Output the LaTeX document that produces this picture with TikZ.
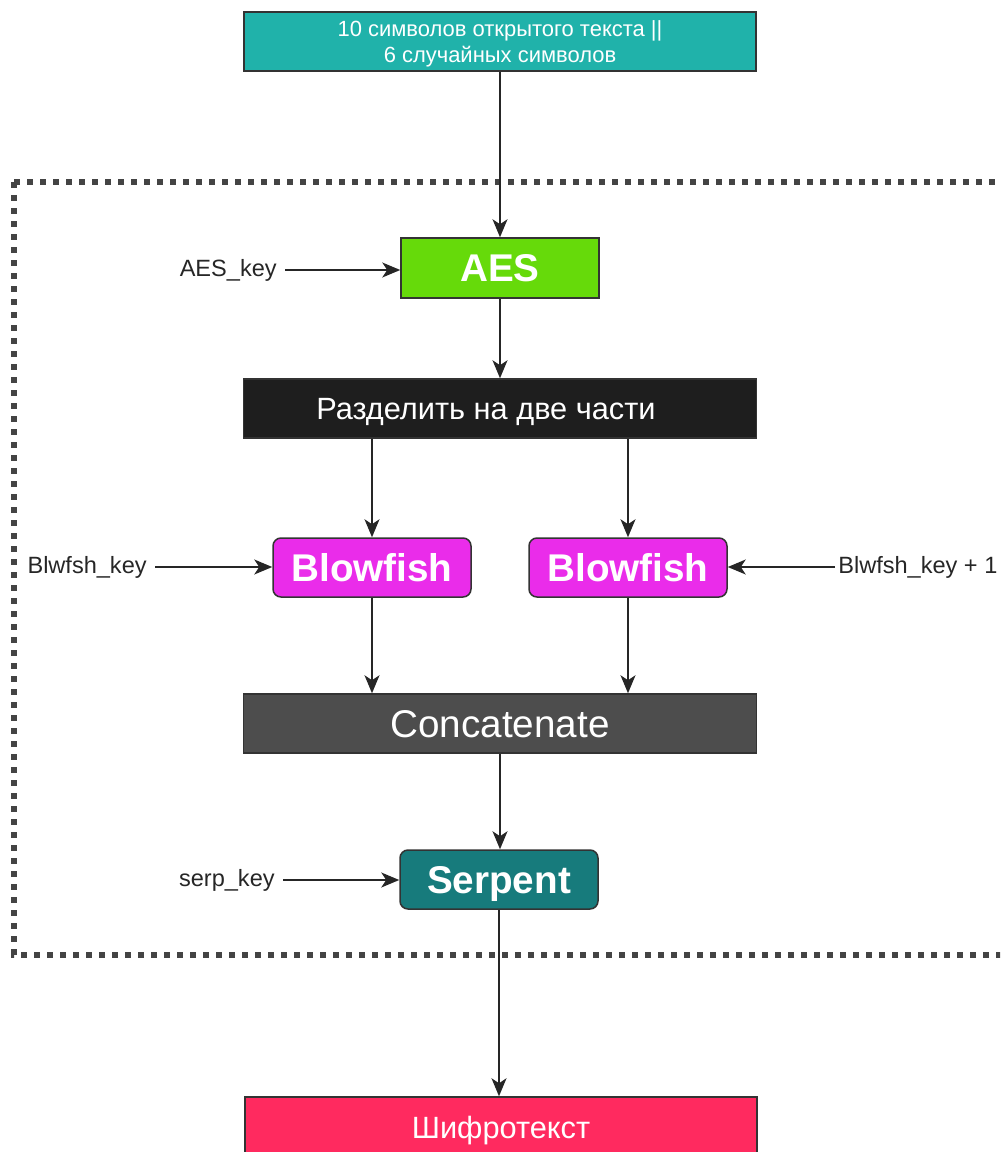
\documentclass[tikz,border=0pt]{standalone}
\usepackage{fontspec}
\setmainfont{Liberation Sans}
\usetikzlibrary{arrows.meta}

\definecolor{boxline}{HTML}{333333}
\definecolor{dotgray}{HTML}{444444}
\definecolor{plainteal}{HTML}{20B2AA}
\definecolor{aesgreen}{HTML}{66DA0A}
\definecolor{splitblack}{HTML}{1E1E1E}
\definecolor{bfmagenta}{HTML}{EA2CEA}
\definecolor{catgray}{HTML}{4D4D4D}
\definecolor{serpteal}{HTML}{177B7C}
\definecolor{cipherred}{HTML}{FF2A5F}

\begin{document}
\begin{tikzpicture}[x=0.2mm,y=-0.2mm,
  blk/.style={draw=boxline,line width=0.3mm,text=white,inner sep=0pt,align=center,text depth=0pt},
  wide/.style={blk,minimum width=102.6mm,minimum height=11.8mm},
  cipherbox/.style={blk,minimum width=39.6mm,minimum height=11.8mm,
    font=\fontsize{22}{26}\selectfont\bfseries},
  arr/.style={-{Stealth[length=3.6mm,width=3mm,inset=1mm]},line width=0.3mm,draw=black!85},
  keylbl/.style={font=\fontsize{13.4}{16}\selectfont,inner xsep=1.6mm,inner ysep=0pt,text=black!85}]
\useasboundingbox (0,0) rectangle (1000,1152);
\clip (0,0) rectangle (1000,1152);

\draw[line width=1.2mm,dash pattern=on 1.2mm off 1.4mm,draw=dotgray] (14,182) rectangle (1012,955);

\node[wide,fill=plainteal,minimum width=102.4mm,font=\fontsize{12.5}{14.8}\selectfont] (plain) at (500,41.5)
  {\rule{0pt}{2.5mm}10 символов открытого текста ||\\6 случайных символов};
\node[cipherbox,fill=aesgreen,minimum height=12mm] (aes) at (500,268) {AES};
\node[wide,fill=splitblack,font=\fontsize{17.5}{20}\selectfont] (split) at (500,408.5) {Разделить на две части\hspace*{5.6mm}};
\node[cipherbox,fill=bfmagenta,rounded corners=1.6mm] (bfl) at (372,567.5) {Blowfish};
\node[cipherbox,fill=bfmagenta,rounded corners=1.6mm] (bfr) at (628,567.5) {Blowfish};
\node[wide,fill=catgray,font=\fontsize{22}{26}\selectfont] (concat) at (500,723.5) {Concatenate};
\node[cipherbox,fill=serpteal,rounded corners=1.6mm] (serp) at (499,879.5) {Serpent};
\node[wide,fill=cipherred,minimum width=102.4mm,minimum height=12mm,font=\fontsize{17.5}{21}\selectfont] (cipher) at (501,1127) {Шифротекст};

\node[keylbl,anchor=east] (aeskey) at (285,270) {AES\_key};
\node[keylbl,anchor=east] (bfkey) at (155,567) {Blwfsh\_key};
\node[keylbl,anchor=west,inner xsep=0.6mm] (bfkeyone) at (835,567) {Blwfsh\_key + 1};
\node[keylbl,anchor=east] (serpkey) at (283,880) {serp\_key};

\draw[arr] (plain.south -| aes.north) -- (aes.north);
\draw[arr] (aeskey.east) -- (aeskey.east -| aes.west);
\draw[arr] (aes.south) -- (split.north);
\draw[arr] (split.south -| bfl.north) -- (bfl.north);
\draw[arr] (split.south -| bfr.north) -- (bfr.north);
\draw[arr] (bfkey.east) -- (bfkey.east -| bfl.west);
\draw[arr] (bfkeyone.west) -- (bfkeyone.west -| bfr.east);
\draw[arr] (bfl.south) -- (bfl.south |- concat.north);
\draw[arr] (bfr.south) -- (bfr.south |- concat.north);
\draw[arr] (concat.south) -- (concat.south |- serp.north);
\draw[arr] (serpkey.east) -- (serpkey.east -| serp.west);
\draw[arr] (serp.south) -- (serp.south |- cipher.north);
\end{tikzpicture}
\end{document}
